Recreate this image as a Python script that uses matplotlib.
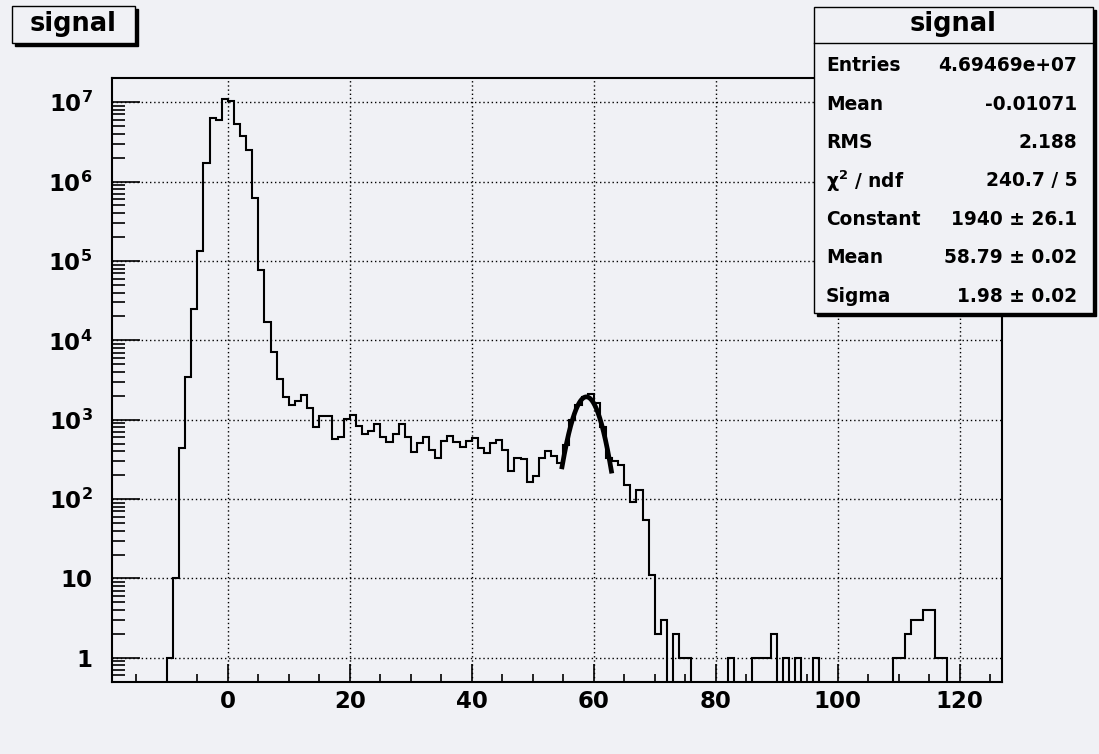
import numpy as np
import matplotlib
matplotlib.use('Agg')
import matplotlib.pyplot as plt
from matplotlib.patches import Rectangle
from matplotlib.lines import Line2D
from matplotlib.ticker import FixedLocator, FixedFormatter, MultipleLocator, LogLocator, NullFormatter

# histogram contents, bin width 1, first bin starts at -10
bin_start = -10
counts = [
    1, 10, 440, 3500, 24500, 134000, 1.7e6, 6.3e6, 5.9e6, 1.09e7,      # -10 .. -1
    1.05e7, 5.3e6, 3.8e6, 2.5e6, 6.2e5, 7.6e4, 1.7e4, 7100, 3250, 1930, # 0 .. 9
    1530, 1700, 2070, 1400, 810, 1120, 1120, 570, 600, 1010,            # 10 .. 19
    1155, 826, 668, 714, 874, 607, 526, 668, 874, 607,                  # 20 .. 29
    394, 511, 607, 414, 325, 541, 625, 526, 455, 541,                   # 30 .. 39
    596, 434, 376, 511, 552, 414, 228, 332, 316, 166,                   # 40 .. 49
    196, 332, 402, 348, 282, 480, 1000, 1550, 1950, 2100,               # 50 .. 59
    1620, 800, 330, 305, 266, 152, 92, 131, 55, 11,                     # 60 .. 69
    2, 3, 0, 2, 1, 1, 0, 0, 0, 0,                                       # 70 .. 79
    0, 0, 1, 0, 0, 0, 1, 1, 1, 2,                                       # 80 .. 89
    0, 1, 0, 1, 0, 0, 1, 0, 0, 0,                                       # 90 .. 99
    0, 0, 0, 0, 0, 0, 0, 0, 0, 1,                                       # 100 .. 109
    1, 2, 3, 3, 4, 4, 1, 1,                                             # 110 .. 117
]

# gaussian fit result
fit_constant = 1940
fit_mean = 58.79
fit_sigma = 1.98
fit_range = (54.8, 62.9)

x_ticks = [0, 20, 40, 60, 80, 100, 120]
y_ticks = [1, 1e1, 1e2, 1e3, 1e4, 1e5, 1e6, 1e7]
y_tick_labels = ['1', '10', '$10^{2}$', '$10^{3}$', '$10^{4}$', '$10^{5}$', '$10^{6}$', '$10^{7}$']

hist_name = 'signal'
stat_names = ['Entries', 'Mean', 'RMS', r'$\chi^{2}$ / ndf', 'Constant', 'Mean', 'Sigma']
stat_values = ['4.69469e+07', '-0.01071', '2.188', '240.7 / 5',
               '1940 \u00b1 26.1', '58.79 \u00b1 0.02', '1.98 \u00b1 0.02']

# 样式
plt.rcParams['font.family'] = ['DejaVu Sans']
plt.rcParams['font.weight'] = 'bold'
plt.rcParams['mathtext.fontset'] = 'dejavusans'
plt.rcParams['mathtext.default'] = 'bf'

bg = '#f0f1f5'
W, H = 1099, 754


def fx(x):
    return x / W


def fy(y):
    return 1 - y / H


fig = plt.figure(figsize=(W / 100, H / 100), dpi=100, facecolor=bg)
ax = fig.add_axes([fx(112), fy(681.7), (1002.3 - 112) / W, (681.7 - 78.3) / H])
ax.set_facecolor(bg)

# 直方图
vals = np.array(counts, dtype=float)
edges = np.arange(bin_start, bin_start + len(vals) + 1)
floor = 1e-3
ax.stairs(np.where(vals > 0, vals, floor), edges, baseline=floor,
          color='black', linewidth=1.5, zorder=3)

# 拟合曲线
xf = np.linspace(fit_range[0], fit_range[1], 200)
yf = fit_constant * np.exp(-0.5 * ((xf - fit_mean) / fit_sigma) ** 2)
ax.plot(xf, yf, color='black', linewidth=3.4, zorder=4)

ax.set_yscale('log')
ax.set_xlim(-19, 127)
ax.set_ylim(0.5, 2.0e7)

ax.xaxis.set_major_locator(FixedLocator(x_ticks))
ax.xaxis.set_minor_locator(MultipleLocator(5))
ax.yaxis.set_major_locator(FixedLocator(y_ticks))
ax.yaxis.set_major_formatter(FixedFormatter(y_tick_labels))
ax.yaxis.set_minor_locator(LogLocator(base=10, subs=np.arange(2, 10), numticks=30))
ax.yaxis.set_minor_formatter(NullFormatter())

ax.tick_params(axis='x', which='major', direction='in', length=13, width=1.2,
               labelsize=16.5, pad=6, top=False)
ax.tick_params(axis='x', which='minor', direction='in', length=6, width=1.2, top=False)
ax.tick_params(axis='y', which='major', direction='in', length=20, width=1.2,
               labelsize=16.5, pad=14, right=False)
ax.tick_params(axis='y', which='minor', direction='in', length=9.5, width=1.2, right=False)

ax.grid(True, which='major', color='black', linestyle=(0, (1, 2)), linewidth=1)
ax.set_axisbelow(True)
for s in ax.spines.values():
    s.set_linewidth(1.5)

# 左上角标题框
fig.add_artist(Rectangle((fx(14.5), fy(46)), (135 - 11.7) / W, (43.3 - 6) / H,
                         transform=fig.transFigure, facecolor='black', edgecolor='black'))
fig.add_artist(Rectangle((fx(11.7), fy(43.3)), (135 - 11.7) / W, (43.3 - 6) / H,
                         transform=fig.transFigure, facecolor=bg, edgecolor='black', linewidth=1))
fig.text(fx(73), fy(24), hist_name, ha='center', va='center', fontsize=18.5, fontweight='bold')

# 统计框
bx0, by0, bx1, by1 = 814, 7, 1093, 313
fig.add_artist(Rectangle((fx(bx0 + 3), fy(by1 + 3)), (bx1 - bx0) / W, (by1 - by0) / H,
                         transform=fig.transFigure, facecolor='black', edgecolor='black'))
fig.add_artist(Rectangle((fx(bx0), fy(by1)), (bx1 - bx0) / W, (by1 - by0) / H,
                         transform=fig.transFigure, facecolor=bg, edgecolor='black', linewidth=1))
fig.add_artist(Line2D([fx(bx0), fx(bx1)], [fy(43.3), fy(43.3)], transform=fig.transFigure,
                      color='black', linewidth=1))
fig.text(fx(953), fy(24), hist_name, ha='center', va='center', fontsize=18.5, fontweight='bold')
row_y = 65.7
for name, val in zip(stat_names, stat_values):
    fig.text(fx(826), fy(row_y), name, ha='left', va='center', fontsize=13.4, fontweight='bold')
    fig.text(fx(1077), fy(row_y), val, ha='right', va='center', fontsize=13.4, fontweight='bold')
    row_y += 38.4

fig.savefig('out.png', dpi=100, facecolor=bg)
